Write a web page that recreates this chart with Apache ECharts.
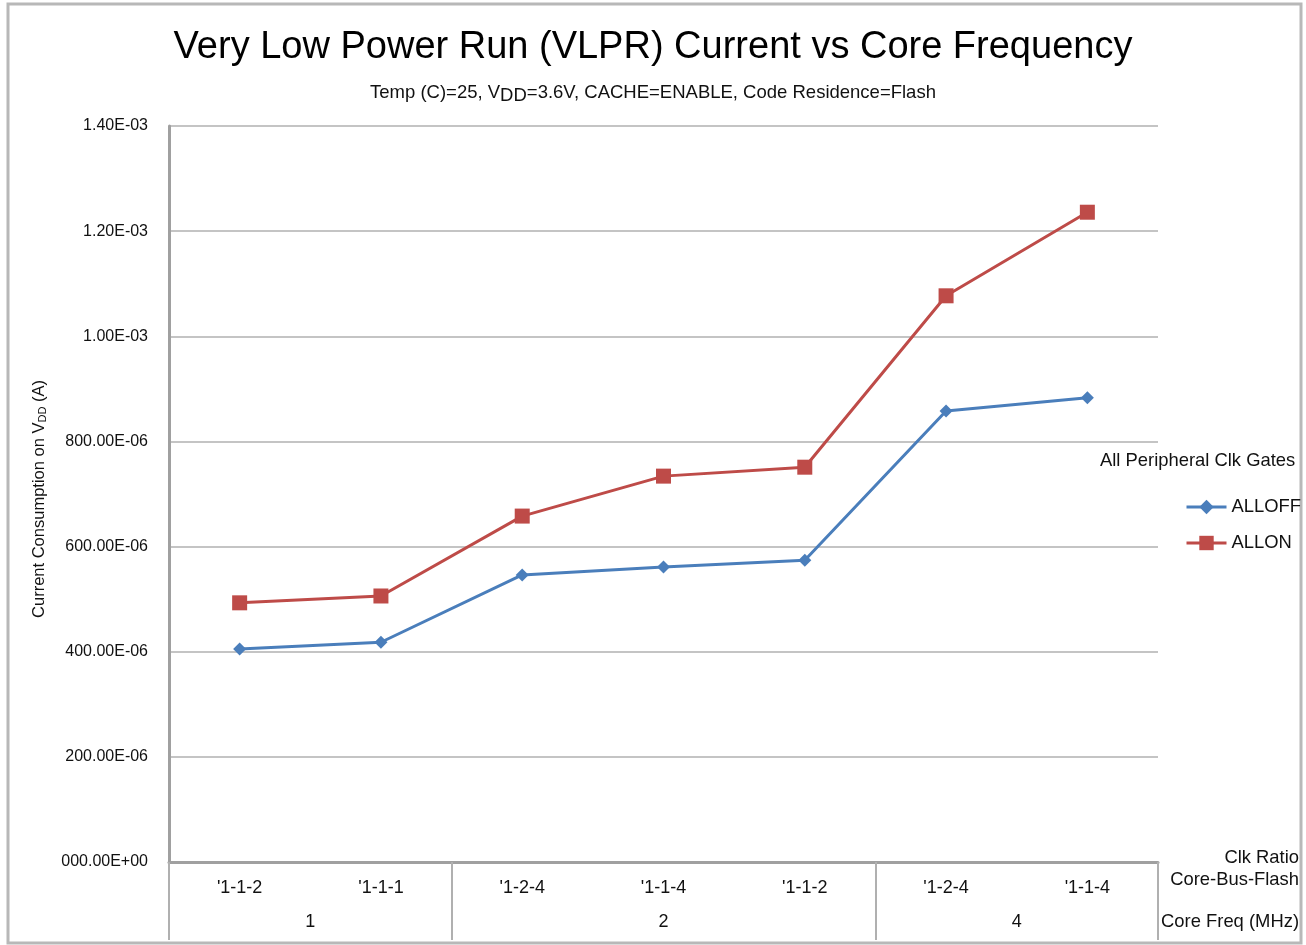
<!DOCTYPE html>
<html><head><meta charset="utf-8">
<script src="https://cdn.jsdelivr.net/npm/echarts@6/dist/echarts.min.js"></script>
<style>html,body{margin:0;padding:0;background:#fff}#c{width:1306px;height:945px}</style>
</head><body><div id="c"></div>
<script>
const categories = ["'1-1-2", "'1-1-1", "'1-2-4", "'1-1-4", "'1-1-2", "'1-2-4", "'1-1-4"];
const groupNames = ["1", "2", "4"];
const groupCenters = [1, 3.5, 6];
const groupBounds = [0, 2, 5, 7];
const allOff = [4.05e-4, 4.18e-4, 5.46e-4, 5.61e-4, 5.74e-4, 8.58e-4, 8.83e-4];
const allOn = [4.93e-4, 5.06e-4, 6.58e-4, 7.34e-4, 7.51e-4, 1.077e-3, 1.236e-3];
const yTickLabels = ["000.00E+00", "200.00E-06", "400.00E-06", "600.00E-06", "800.00E-06", "1.00E-03", "1.20E-03", "1.40E-03"];

const font = "Liberation Sans, Arial, sans-serif";
const sideText = { fontFamily: font, fontSize: 18.4, fontWeight: 'normal', color: '#111', lineHeight: 22 };
const chart = echarts.init(document.getElementById('c'));
chart.setOption({
  backgroundColor: '#fff',
  animation: false,
  textStyle: { fontFamily: font, color: '#111' },
  graphic: [{
    type: 'rect', silent: true,
    shape: { x: 8, y: 4, width: 1293, height: 939 },
    style: { fill: 'none', stroke: '#b8b8b8', lineWidth: 3 }
  }],
  title: [
    { text: 'Very Low Power Run (VLPR) Current vs Core Frequency', left: 'center', top: 24,
      textStyle: { fontFamily: font, fontSize: 38, fontWeight: 'normal', color: '#000' } },
    { text: 'Temp (C)=25, V{sub|DD}=3.6V, CACHE=ENABLE, Code Residence=Flash', left: 'center', top: 75,
      textStyle: { fontFamily: font, fontSize: 18.5, fontWeight: 'normal', color: '#111',
        rich: { sub: { fontFamily: font, fontSize: 18.5, color: '#111', padding: [6, 0, 0, 0] } } } },
    { text: 'All Peripheral Clk Gates', left: 1095, top: 445, textStyle: sideText },
    { text: 'Clk Ratio', right: 7, top: 847, padding: 0, textStyle: sideText },
    { text: 'Core-Bus-Flash', right: 7, top: 869, padding: 0, textStyle: sideText },
    { text: 'Core Freq (MHz)', right: 7, top: 911, padding: 0, textStyle: sideText }
  ],
  legend: {
    orient: 'vertical', left: 1185, top: 498, padding: 0, itemWidth: 40, itemHeight: 18, itemGap: 18, itemTextGap: -2,
    lineStyle: { width: 3 },
    textStyle: { fontFamily: font, fontSize: 18.4, color: '#111' },
    data: ['ALLOFF', 'ALLON']
  },
  grid: { left: 169, right: 148, top: 126, bottom: 83, containLabel: false },
  xAxis: [
    { type: 'category', data: categories, boundaryGap: true,
      axisLine: { show: true, lineStyle: { color: '#a0a0a0', width: 3 } },
      axisTick: { show: false },
      axisLabel: { margin: 17, fontFamily: font, fontSize: 18, color: '#111' },
      splitLine: { show: false } },
    { type: 'value', min: 0, max: 7, position: 'bottom',
      axisLine: { show: false },
      splitLine: { show: false },
      axisTick: { show: true, customValues: groupBounds, length: 78, lineStyle: { color: '#b0b0b0', width: 2 } },
      axisLabel: { show: true, customValues: groupCenters, margin: 51, fontFamily: font, fontSize: 18, color: '#111',
        formatter: function (v) { const i = groupCenters.indexOf(v); return i >= 0 ? groupNames[i] : ''; } } }
  ],
  yAxis: {
    type: 'value', min: 0, max: 1.4e-3, interval: 2e-4,
    name: 'Current Consumption on V{sub|DD} (A)', nameLocation: 'middle', nameGap: 121,
    nameTextStyle: { fontFamily: font, fontSize: 16.5, color: '#111', padding: [0, 10, 0, 0],
      rich: { sub: { fontFamily: font, fontSize: 11, color: '#111', padding: [6, 0, 0, 0] } } },
    axisLine: { show: true, lineStyle: { color: '#a0a0a0', width: 3 } },
    axisTick: { show: false },
    axisLabel: { margin: 21, fontFamily: font, fontSize: 16, color: '#111',
      formatter: function (v) { return yTickLabels[Math.round(v / 2e-4)]; } },
    splitLine: { show: true, lineStyle: { color: '#c4c4c4', width: 2 } }
  },
  series: [
    { name: 'ALLOFF', type: 'line', data: allOff, xAxisIndex: 0, symbol: 'diamond', symbolSize: 13,
      itemStyle: { color: '#4a7ebb' }, lineStyle: { color: '#4a7ebb', width: 3 } },
    { name: 'ALLON', type: 'line', data: allOn, xAxisIndex: 0, symbol: 'rect', symbolSize: 15,
      itemStyle: { color: '#be4b48' }, lineStyle: { color: '#be4b48', width: 3 } }
  ]
});
</script></body></html>
